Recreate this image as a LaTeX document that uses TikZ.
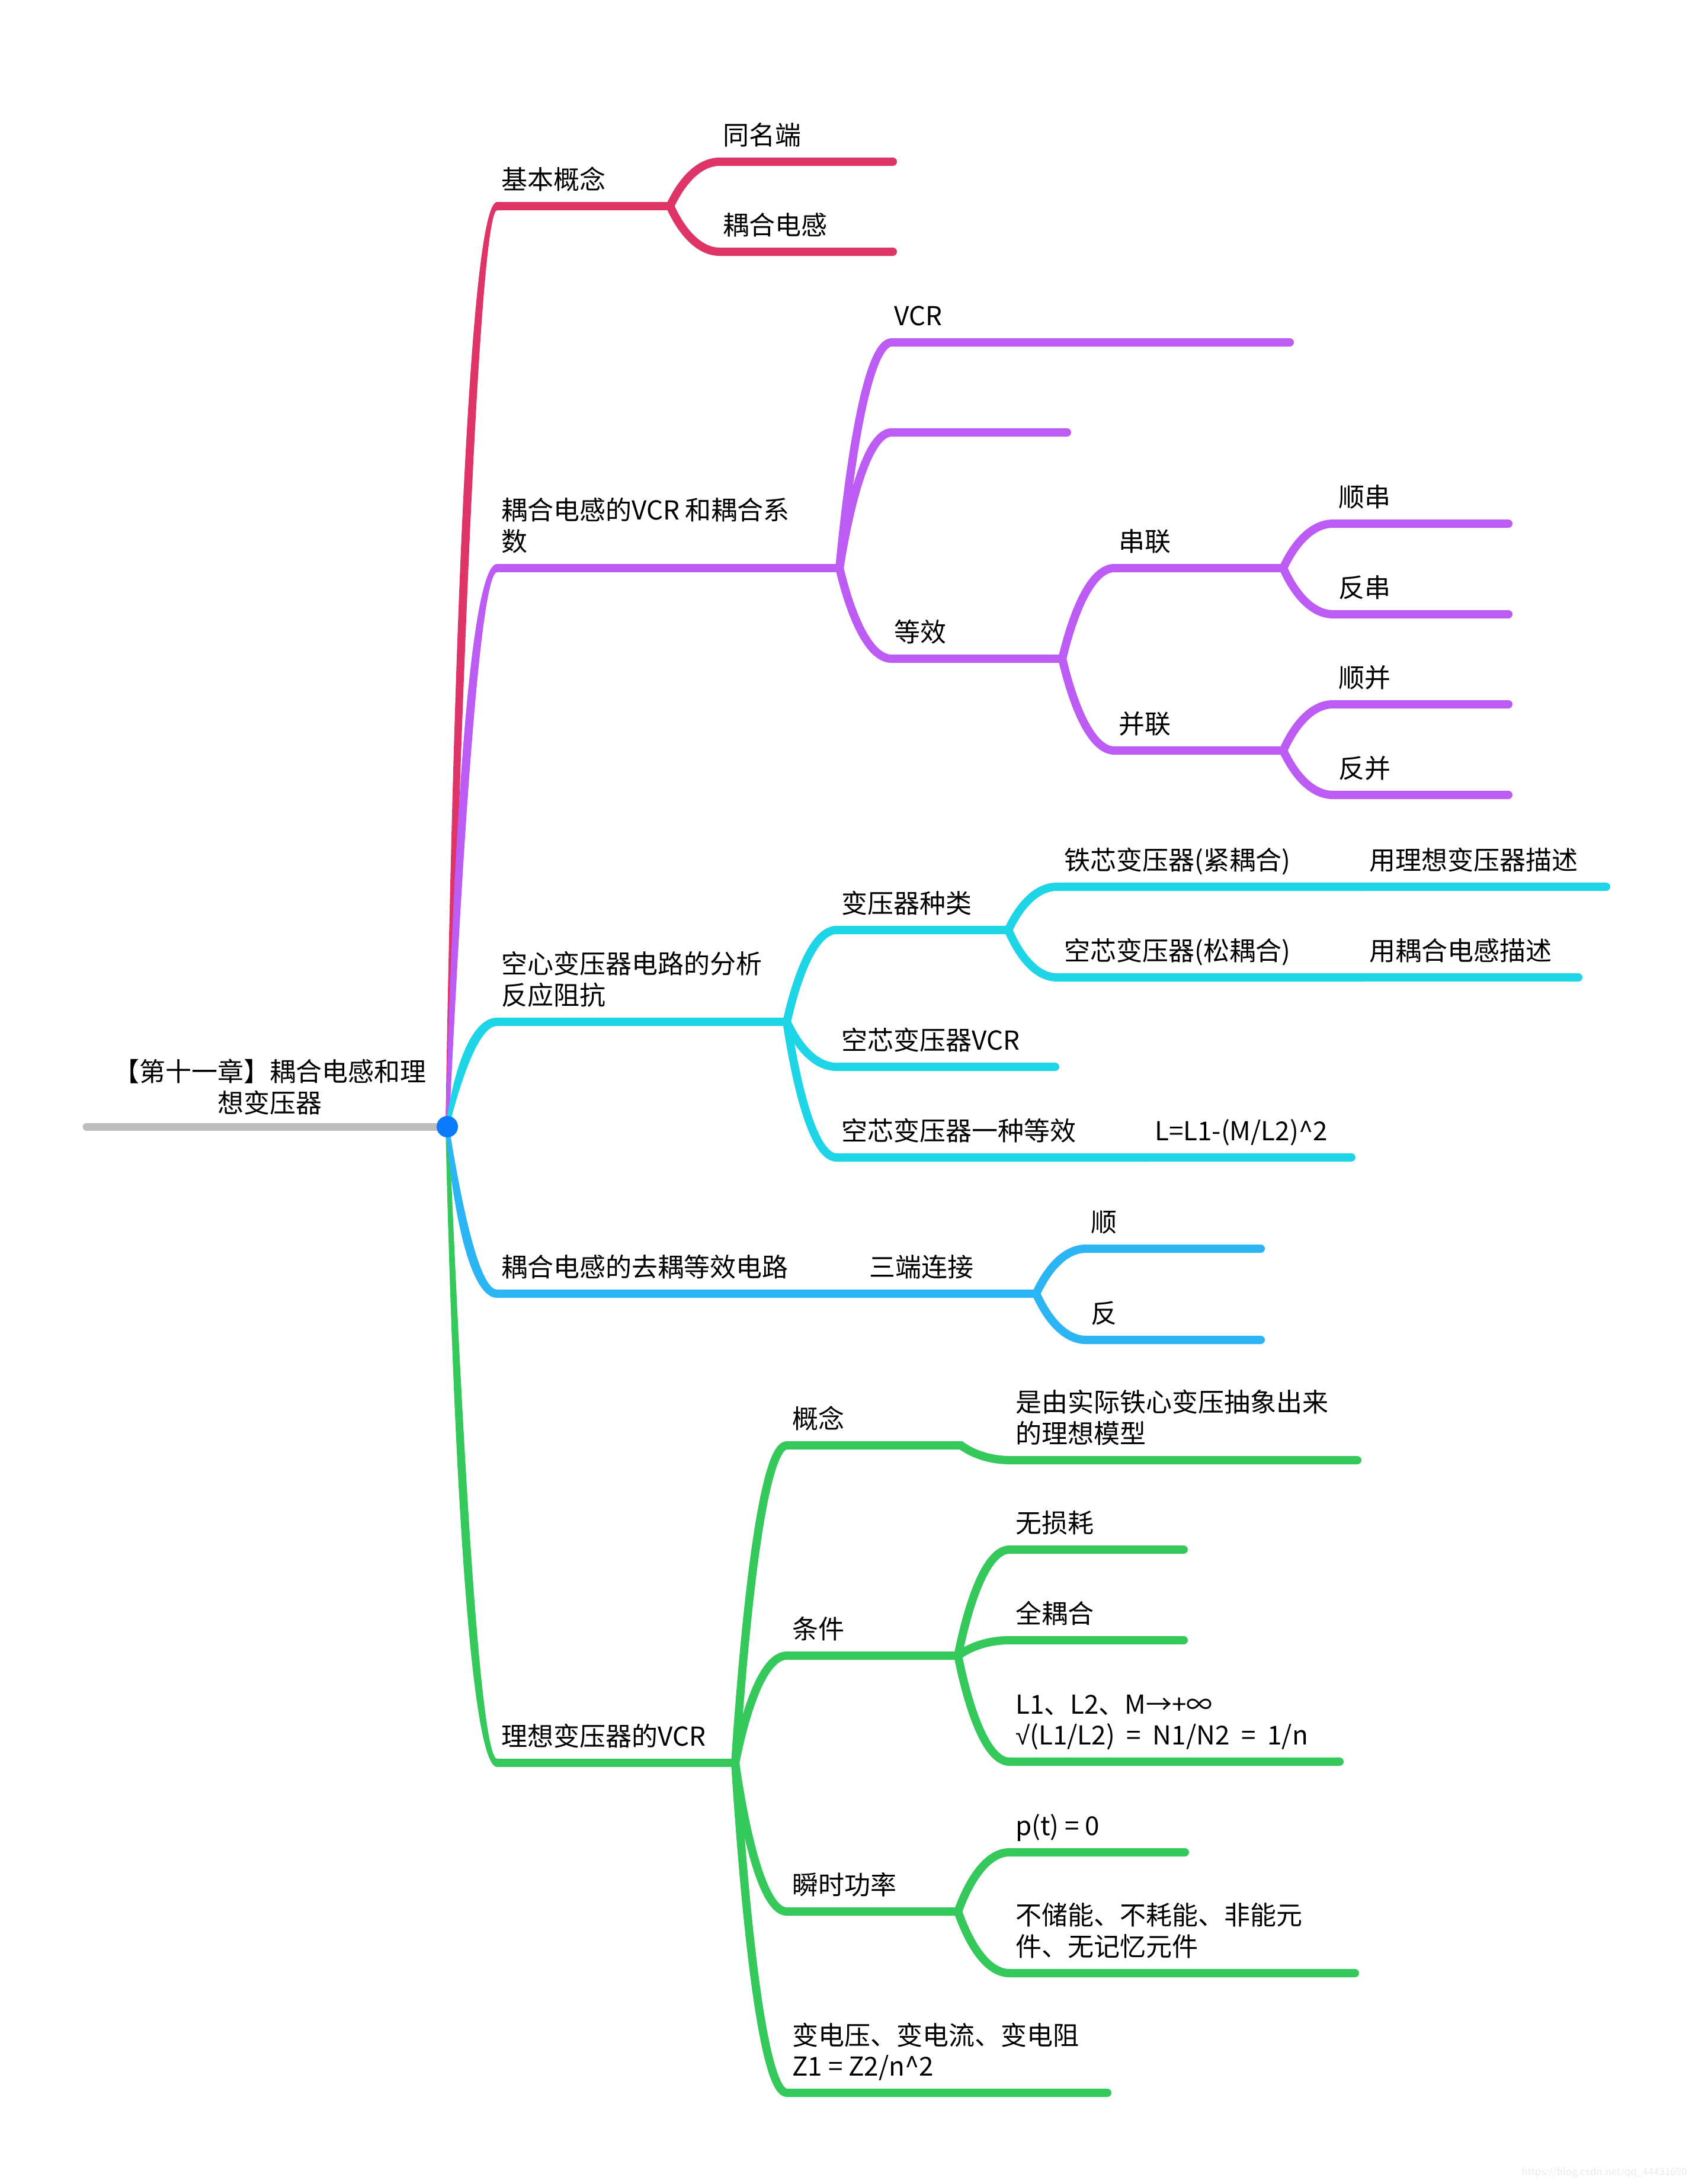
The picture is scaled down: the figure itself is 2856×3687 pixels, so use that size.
\documentclass[tikz,border=0pt]{standalone}
\usepackage{fontspec}
\setmainfont{Noto Sans CJK SC}
\newfontfamily\symfont{Liberation Sans}
\usetikzlibrary{calc}
\definecolor{cpink}{RGB}{222,52,104}
\definecolor{cpurple}{RGB}{188,92,245}
\definecolor{ccyan}{RGB}{29,213,230}
\definecolor{cblue}{RGB}{43,181,245}
\definecolor{cgreen}{RGB}{53,200,90}
\definecolor{cdot}{RGB}{10,123,255}
\definecolor{cgray}{RGB}{189,189,189}
\newcommand\tl[2]{\begin{tabular}[b]{@{}l@{}}#1\\#2\end{tabular}}
% child connector: colour, fork, vertex, end
\newcommand\br[4]{%
  \draw[cb,#1] let \p1=(#2), \p2=(#3) in (#2) .. controls ({\x1+0.25*(\x2-\x1)},{\y1+0.6*(\y2-\y1)}) and ({\x2-0.4*(\x2-\x1)},{\y2}) .. (#3) -- (#4);}
% main tapered connector: colour, vertex, end, sign
\newcommand\mainbr[4]{%
  \fill[#1] let \p1=(root), \p2=(#2), \n1={#4*7} in
    ({\x1-3},{\y1}) .. controls ({\x1+0.25*(\x2-\x1)-9},{\y1+0.6*(\y2-\y1)}) and ({\x2-0.4*(\x2-\x1)-8},{\y2+\n1}) .. ({\x2},{\y2+\n1})
    -- ({\x2},{\y2-\n1}) .. controls ({\x2-0.4*(\x2-\x1)+8},{\y2-\n1}) and ({\x1+0.25*(\x2-\x1)+9},{\y1+0.6*(\y2-\y1)}) .. ({\x1+3},{\y1}) -- cycle;
  \draw[#1,line width=14pt,line cap=butt] (#2) -- (#3);
  \fill[#1] (#3) circle[radius=7];}
\begin{document}
\begin{tikzpicture}[x=1pt,y=-1pt,
  cb/.style={line width=14pt,line cap=round,line join=round},
  lbl/.style={anchor=base west,inner sep=0pt,font=\fontsize{44}{52}\selectfont,text=black}]
\useasboundingbox (0,0) rectangle (2856,3687);
\fill[white] (0,0) rectangle (2856,3687);
% coordinates
\coordinate (root) at (755,1902);
\coordinate (grayL) at (146,1902);
\coordinate (v1) at (839,348);   \coordinate (e1) at (1131,348);
\coordinate (a1v) at (1215,273); \coordinate (a1e) at (1507,273);
\coordinate (a2v) at (1215,425); \coordinate (a2e) at (1507,425);
\coordinate (v2) at (839,959);   \coordinate (e2) at (1417,959);
\coordinate (b1v) at (1505,578); \coordinate (b1e) at (2177,578);
\coordinate (b2v) at (1505,730); \coordinate (b2e) at (1801,730);
\coordinate (b3v) at (1505,1112); \coordinate (b3e) at (1793,1112);
\coordinate (b31v) at (1881,959); \coordinate (b31e) at (2166,959);
\coordinate (b311v) at (2250,884); \coordinate (b311e) at (2546,884);
\coordinate (b312v) at (2250,1037); \coordinate (b312e) at (2546,1037);
\coordinate (b32v) at (1881,1267); \coordinate (b32e) at (2166,1267);
\coordinate (b321v) at (2250,1189); \coordinate (b321e) at (2546,1189);
\coordinate (b322v) at (2250,1342); \coordinate (b322e) at (2546,1342);
\coordinate (v3) at (839,1725);  \coordinate (e3) at (1328,1725);
\coordinate (c1v) at (1412,1570); \coordinate (c1e) at (1702,1570);
\coordinate (c11v) at (1784,1497); \coordinate (c11e) at (2300,1497); \coordinate (c11c) at (2711,1497);
\coordinate (c12v) at (1784,1650); \coordinate (c12e) at (2300,1650); \coordinate (c12c) at (2664,1650);
\coordinate (c2v) at (1412,1801); \coordinate (c2e) at (1781,1801);
\coordinate (c3v) at (1412,1954); \coordinate (c3e) at (1940,1954); \coordinate (c3c) at (2281,1954);
\coordinate (v4) at (839,2184);  \coordinate (e4) at (1460,2184); \coordinate (d0e) at (1749,2184);
\coordinate (d1v) at (1833,2108); \coordinate (d1e) at (2128,2108);
\coordinate (d2v) at (1833,2262); \coordinate (d2e) at (2128,2262);
\coordinate (v5) at (839,2976);  \coordinate (e5) at (1241,2976);
\coordinate (f1v) at (1328,2440); \coordinate (f1e) at (1622,2440);
\coordinate (f11v) at (1705,2465); \coordinate (f11e) at (2291,2465);
\coordinate (f2v) at (1328,2795); \coordinate (f2e) at (1617,2795);
\coordinate (f21v) at (1704,2616); \coordinate (f21e) at (1998,2616);
\coordinate (f22v) at (1704,2769); \coordinate (f22e) at (1998,2769);
\coordinate (f23v) at (1704,2974); \coordinate (f23e) at (2261,2974);
\coordinate (f3v) at (1328,3227); \coordinate (f3e) at (1617,3227);
\coordinate (f31v) at (1704,3127); \coordinate (f31e) at (2000,3127);
\coordinate (f32v) at (1704,3331); \coordinate (f32e) at (2287,3331);
\coordinate (f4v) at (1328,3533); \coordinate (f4e) at (1869,3533);
% root line
\draw[cgray,line width=13pt,line cap=round] (grayL) -- (root);
% main branches
\mainbr{cgreen}{v5}{e5}{-1}
\mainbr{cblue}{v4}{e4}{-1}
\mainbr{cpink}{v1}{e1}{1}
\mainbr{cpurple}{v2}{e2}{1}
\mainbr{ccyan}{v3}{e3}{1}
% branch 1
\br{cpink}{e1}{a1v}{a1e}
\br{cpink}{e1}{a2v}{a2e}
% branch 2
\br{cpurple}{e2}{b1v}{b1e}
\br{cpurple}{e2}{b2v}{b2e}
\br{cpurple}{e2}{b3v}{b3e}
\br{cpurple}{b3e}{b31v}{b31e}
\br{cpurple}{b3e}{b32v}{b32e}
\br{cpurple}{b31e}{b311v}{b311e}
\br{cpurple}{b31e}{b312v}{b312e}
\br{cpurple}{b32e}{b321v}{b321e}
\br{cpurple}{b32e}{b322v}{b322e}
% branch 3
\br{ccyan}{e3}{c1v}{c1e}
\br{ccyan}{e3}{c2v}{c2e}
\br{ccyan}{e3}{c3v}{c3e}
\draw[cb,ccyan] (c3e) -- (c3c);
\br{ccyan}{c1e}{c11v}{c11e}
\br{ccyan}{c1e}{c12v}{c12e}
\draw[cb,ccyan] (c11e) -- (c11c);
\draw[cb,ccyan] (c12e) -- (c12c);
% branch 4
\draw[cb,cblue] (e4) -- (d0e);
\br{cblue}{d0e}{d1v}{d1e}
\br{cblue}{d0e}{d2v}{d2e}
% branch 5
\br{cgreen}{e5}{f1v}{f1e}
\br{cgreen}{e5}{f2v}{f2e}
\br{cgreen}{e5}{f3v}{f3e}
\br{cgreen}{e5}{f4v}{f4e}
\br{cgreen}{f1e}{f11v}{f11e}
\br{cgreen}{f2e}{f21v}{f21e}
\br{cgreen}{f2e}{f22v}{f22e}
\br{cgreen}{f2e}{f23v}{f23e}
\br{cgreen}{f3e}{f31v}{f31e}
\br{cgreen}{f3e}{f32v}{f32e}
% root dot
\fill[cdot] (root) circle[radius=18];
% labels
\node[lbl,anchor=base] (rootlabel) at (455,1878) {\begin{tabular}[b]{@{}c@{}}【第十一章】耦合电感和理\\想变压器\end{tabular}};
\node[lbl] (t1) at (846,319) {基本概念};
\node[lbl] (t11) at (1220,244) {同名端};
\node[lbl] (t12) at (1220,396) {耦合电感};
\node[lbl] (t2) at (846,930) {\tl{耦合电感的VCR 和耦合系}{数}};
\node[lbl] (t21) at (1509,549) {VCR};
\node[lbl] (t23) at (1509,1083) {等效};
\node[lbl] (t231) at (1888,930) {串联};
\node[lbl] (t232) at (1888,1238) {并联};
\node[lbl] (t2311) at (2259,855) {顺串};
\node[lbl] (t2312) at (2259,1008) {反串};
\node[lbl] (t2321) at (2259,1160) {顺并};
\node[lbl] (t2322) at (2259,1313) {反并};
\node[lbl] (t3) at (846,1696) {\tl{空心变压器电路的分析}{反应阻抗}};
\node[lbl] (t31) at (1420,1541) {变压器种类};
\node[lbl] (t311) at (1796,1468) {铁芯变压器(紧耦合)};
\node[lbl] (t311c) at (2311,1468) {用理想变压器描述};
\node[lbl] (t312) at (1796,1621) {空芯变压器(松耦合)};
\node[lbl] (t312c) at (2311,1621) {用耦合电感描述};
\node[lbl] (t32) at (1420,1772) {空芯变压器VCR};
\node[lbl] (t33) at (1420,1925) {空芯变压器一种等效};
\node[lbl] (t33c) at (1949,1925) {L=L1-(M/L2)\textasciicircum 2};
\node[lbl] (t4) at (846,2155) {耦合电感的去耦等效电路};
\node[lbl] (t41) at (1467,2155) {三端连接};
\node[lbl] (t411) at (1841,2079) {顺};
\node[lbl] (t412) at (1841,2233) {反};
\node[lbl] (t5) at (846,2947) {理想变压器的VCR};
\node[lbl] (t51) at (1337,2411) {概念};
\node[lbl] (t511) at (1714,2436) {\tl{是由实际铁心变压抽象出来}{的理想模型}};
\node[lbl] (t52) at (1337,2766) {条件};
\node[lbl] (t521) at (1714,2587) {无损耗};
\node[lbl] (t522) at (1714,2740) {全耦合};
\node[lbl] (t523) at (1714,2945) {\tl{L1、L2、M→+∞}{{\symfont √}(L1/L2)\ \ =\ \ N1/N2\ \ =\ \ 1/n}};
\node[lbl] (t53) at (1337,3198) {瞬时功率};
\node[lbl] (t531) at (1714,3098) {p(t) = 0};
\node[lbl] (t532) at (1714,3302) {\tl{不储能、不耗能、非能元}{件、无记忆元件}};
\node[lbl] (t54) at (1337,3504) {\tl{变电压、变电流、变电阻}{Z1 = Z2/n\textasciicircum 2}};
\node[anchor=base east,inner sep=0pt,font=\fontsize{17}{20}\selectfont,text=black!8] (wm) at (2848,3672) {https://blog.csdn.net/qq\_44431690};
\end{tikzpicture}
\end{document}
